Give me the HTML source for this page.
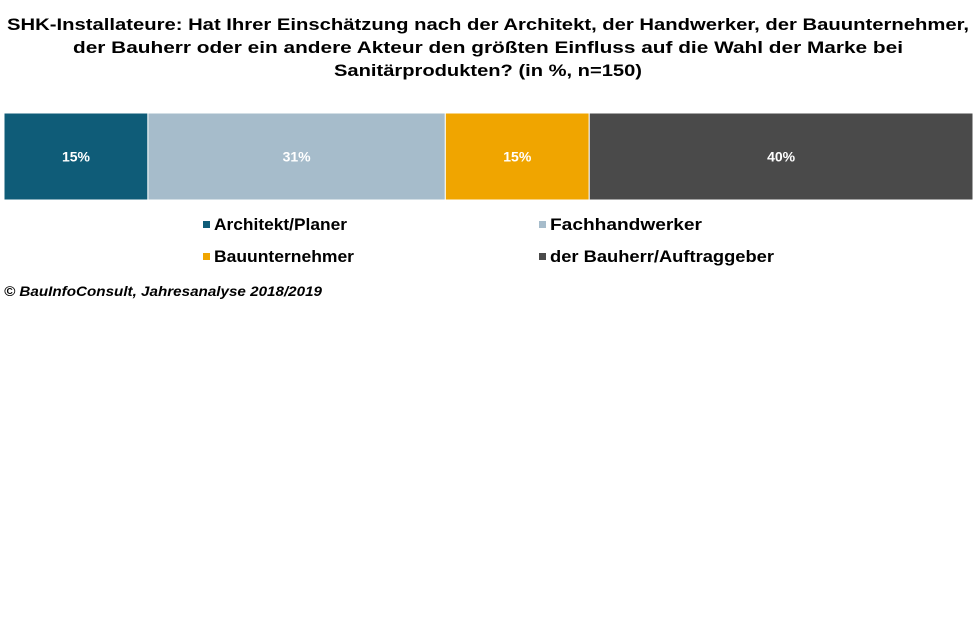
<!DOCTYPE html>
<html><head><meta charset="utf-8"><style>
body{margin:0;background:#fff;width:977px;height:638px;overflow:hidden}
svg{display:block;font-family:"Liberation Sans",Arial,sans-serif}
</style></head><body>
<svg id="c" width="977" height="638">
<g font-weight="bold" font-size="17" fill="#000" text-anchor="middle">
<text x="488" y="30" textLength="962" lengthAdjust="spacingAndGlyphs">SHK-Installateure: Hat Ihrer Einschätzung nach der Architekt, der Handwerker, der Bauunternehmer,</text>
<text x="488" y="53" textLength="830" lengthAdjust="spacingAndGlyphs">der Bauherr oder ein andere Akteur den größten Einfluss auf die Wahl der Marke bei</text>
<text x="488" y="76" textLength="308" lengthAdjust="spacingAndGlyphs">Sanitärprodukten? (in %, n=150)</text>
</g>
<g id="bars"></g>
<g id="legend"></g>
<text x="4" y="296" font-size="14" font-style="italic" font-weight="bold" fill="#000" textLength="318" lengthAdjust="spacingAndGlyphs">© BauInfoConsult, Jahresanalyse 2018/2019</text>
</svg>
<script>
const categories=["Architekt/Planer","Fachhandwerker","Bauunternehmer","der Bauherr/Auftraggeber"];
const values=[15,31,15,40];
const colors=["#0f5c78","#a6bccb","#f0a500","#4a4a4a"];
const NS="http://www.w3.org/2000/svg";
const x0=4,x1=973,y0=113,y1=200;
const total=values.reduce((a,b)=>a+b,0);
const xs=v=>(x1-x0)*v/total;
const bars=document.getElementById('bars');
let cx=x0;
values.forEach((v,i)=>{
 const w=xs(v);
 const r=document.createElementNS(NS,'rect');
 r.setAttribute('x',cx);r.setAttribute('y',y0);r.setAttribute('width',w);r.setAttribute('height',y1-y0);
 r.setAttribute('fill',colors[i]);r.setAttribute('stroke','#fff');r.setAttribute('stroke-width','1');
 
 
 bars.appendChild(r);
 const t=document.createElementNS(NS,'text');
 t.setAttribute('x',cx+w/2);t.setAttribute('y',(y0+y1)/2+5);t.setAttribute('text-anchor','middle');
 t.setAttribute('font-size','14');t.setAttribute('font-weight','bold');t.setAttribute('fill','#fff');
 t.textContent=v+'%';
 
 
 bars.appendChild(t);
 cx+=w;
});
const legend=document.getElementById('legend');
const lx=[203,539],ly=[224,256];
const textWidths=[133,152,140,224];
categories.forEach((c,i)=>{
 const x=lx[i%2],y=ly[Math.floor(i/2)];
 const g=document.createElementNS(NS,'g');
 
 
 const m=document.createElementNS(NS,'rect');
 m.setAttribute('x',x);m.setAttribute('y',y-3);m.setAttribute('width',7);m.setAttribute('height',7);m.setAttribute('fill',colors[i]);
 g.appendChild(m);
 const t=document.createElementNS(NS,'text');
 t.setAttribute('x',x+11);t.setAttribute('y',y+6);t.setAttribute('font-size','17');t.setAttribute('font-weight','bold');
 t.setAttribute('fill','#000');
 t.setAttribute('textLength',textWidths[i]);t.setAttribute('lengthAdjust','spacingAndGlyphs');
 t.textContent=c;
 g.appendChild(t);
 legend.appendChild(g);
});
</script>
</body></html>
